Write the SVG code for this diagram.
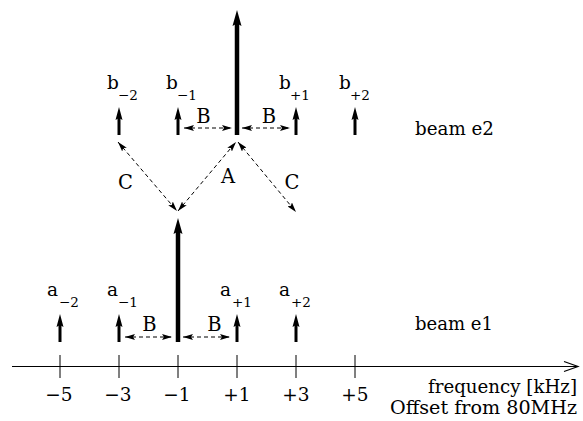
<svg xmlns="http://www.w3.org/2000/svg" width="583" height="421" viewBox="0 0 583 421" font-family="'DejaVu Serif', 'Liberation Serif', serif">
<style>
text{font-family:'DejaVu Serif','Liberation Serif',serif;fill:#000}
.lbl{font-size:18.5px}
.let{font-size:19.5px}
.sub{font-size:13.5px}
.mid{text-anchor:middle}
.end{text-anchor:end}
.ax{stroke:#000;stroke-width:1.2;fill:none}
.tick{stroke:#000;stroke-width:1}
.dash{stroke:#000;stroke-width:1;stroke-dasharray:4 3;fill:none;marker-start:url(#dh);marker-end:url(#dh)}
.shaft{stroke:#000;stroke-width:3}
.big{stroke:#000;stroke-width:4.5}
</style>
<defs>
<marker id="dh" viewBox="0 0 10 6" refX="10" refY="3" markerWidth="10" markerHeight="6" markerUnits="userSpaceOnUse" orient="auto-start-reverse">
<path d="M0,0 L10,3 L0,6 L2,3 Z" fill="#000"/>
</marker>
<path id="hs" d="M0,0 L3.5,13 L0,11 L-3.5,13 Z" fill="#000"/>
<path id="hb" d="M0,0 L4.5,16 L0,13.5 L-4.5,16 Z" fill="#000"/>
</defs>

<g id="axis">
<line class="ax" x1="12" y1="366.5" x2="577" y2="366.5"/>
<polyline class="ax" points="564,361.5 578,366.5 564,371.5"/>
<line class="tick" x1="60" y1="355" x2="60" y2="378"/>
<line class="tick" x1="119" y1="355" x2="119" y2="378"/>
<line class="tick" x1="178" y1="355" x2="178" y2="378"/>
<line class="tick" x1="237" y1="355" x2="237" y2="378"/>
<line class="tick" x1="296" y1="355" x2="296" y2="378"/>
<line class="tick" x1="355" y1="355" x2="355" y2="378"/>
<text class="lbl mid" x="59" y="401">−5</text>
<text class="lbl mid" x="118" y="401">−3</text>
<text class="lbl mid" x="177" y="401">−1</text>
<text class="lbl mid" x="237" y="401">+1</text>
<text class="lbl mid" x="296" y="401">+3</text>
<text class="lbl mid" x="355" y="401">+5</text>
<text class="lbl" x="428" y="393" textLength="149" lengthAdjust="spacingAndGlyphs">frequency [kHz]</text>
<text class="lbl" x="390" y="414" textLength="187" lengthAdjust="spacingAndGlyphs">Offset from 80MHz</text>
</g>

<g id="a-2">
<line class="shaft" x1="60" y1="342" x2="60" y2="324"/>
<use href="#hs" x="60" y="314"/>
<text class="lbl" x="47" y="296">a</text><text class="sub" x="59" y="307">−2</text>
</g>
<g id="a-1">
<line class="shaft" x1="119" y1="342" x2="119" y2="324"/>
<use href="#hs" x="119" y="314"/>
<text class="lbl" x="107" y="296">a</text><text class="sub" x="118" y="307">−1</text>
</g>
<g id="a0">
<line class="big" x1="178" y1="342" x2="178" y2="230"/>
<use href="#hb" x="178" y="218"/>
</g>
<g id="a+1">
<line class="shaft" x1="237" y1="342" x2="237" y2="324"/>
<use href="#hs" x="237" y="314"/>
<text class="lbl" x="220" y="296">a</text><text class="sub" x="232" y="307">+1</text>
</g>
<g id="a+2">
<line class="shaft" x1="296" y1="342" x2="296" y2="324"/>
<use href="#hs" x="296" y="314"/>
<text class="lbl" x="279" y="296">a</text><text class="sub" x="291" y="307">+2</text>
</g>
<g id="beam-e1"><text class="lbl" x="415" y="330" textLength="78" lengthAdjust="spacingAndGlyphs">beam e1</text></g>

<g id="b-2">
<line class="shaft" x1="119" y1="135" x2="119" y2="117"/>
<use href="#hs" x="119" y="107"/>
<text class="lbl" x="107" y="89">b</text><text class="sub" x="118" y="100">−2</text>
</g>
<g id="b-1">
<line class="shaft" x1="178" y1="135" x2="178" y2="117"/>
<use href="#hs" x="178" y="107"/>
<text class="lbl" x="166" y="89">b</text><text class="sub" x="177" y="100">−1</text>
</g>
<g id="b0">
<line class="big" x1="237" y1="135" x2="237" y2="22"/>
<use href="#hb" x="237" y="10"/>
</g>
<g id="b+1">
<line class="shaft" x1="296" y1="135" x2="296" y2="117"/>
<use href="#hs" x="296" y="107"/>
<text class="lbl" x="279" y="89">b</text><text class="sub" x="290" y="100">+1</text>
</g>
<g id="b+2">
<line class="shaft" x1="355" y1="135" x2="355" y2="117"/>
<use href="#hs" x="355" y="107"/>
<text class="lbl" x="339" y="89">b</text><text class="sub" x="350" y="100">+2</text>
</g>
<g id="beam-e2"><text class="lbl" x="415" y="135" textLength="79" lengthAdjust="spacingAndGlyphs">beam e2</text></g>

<g id="connectors">
<line class="dash" x1="125" y1="337" x2="172" y2="337"/>
<line class="dash" x1="183" y1="337" x2="230" y2="337"/>
<line class="dash" x1="184" y1="128" x2="232" y2="128"/>
<line class="dash" x1="242" y1="128" x2="290" y2="128"/>
<line class="dash" x1="118" y1="142" x2="177" y2="211"/>
<line class="dash" x1="178" y1="211" x2="236" y2="142"/>
<line class="dash" x1="238" y1="142" x2="296" y2="212"/>
<text class="let mid" x="149.5" y="331">B</text>
<text class="let mid" x="214.5" y="331">B</text>
<text class="let mid" x="203.5" y="123">B</text>
<text class="let mid" x="269" y="123">B</text>
<text class="let mid" x="125.5" y="189">C</text>
<text class="let mid" x="228" y="183">A</text>
<text class="let mid" x="292" y="189">C</text>
</g>
</svg>
